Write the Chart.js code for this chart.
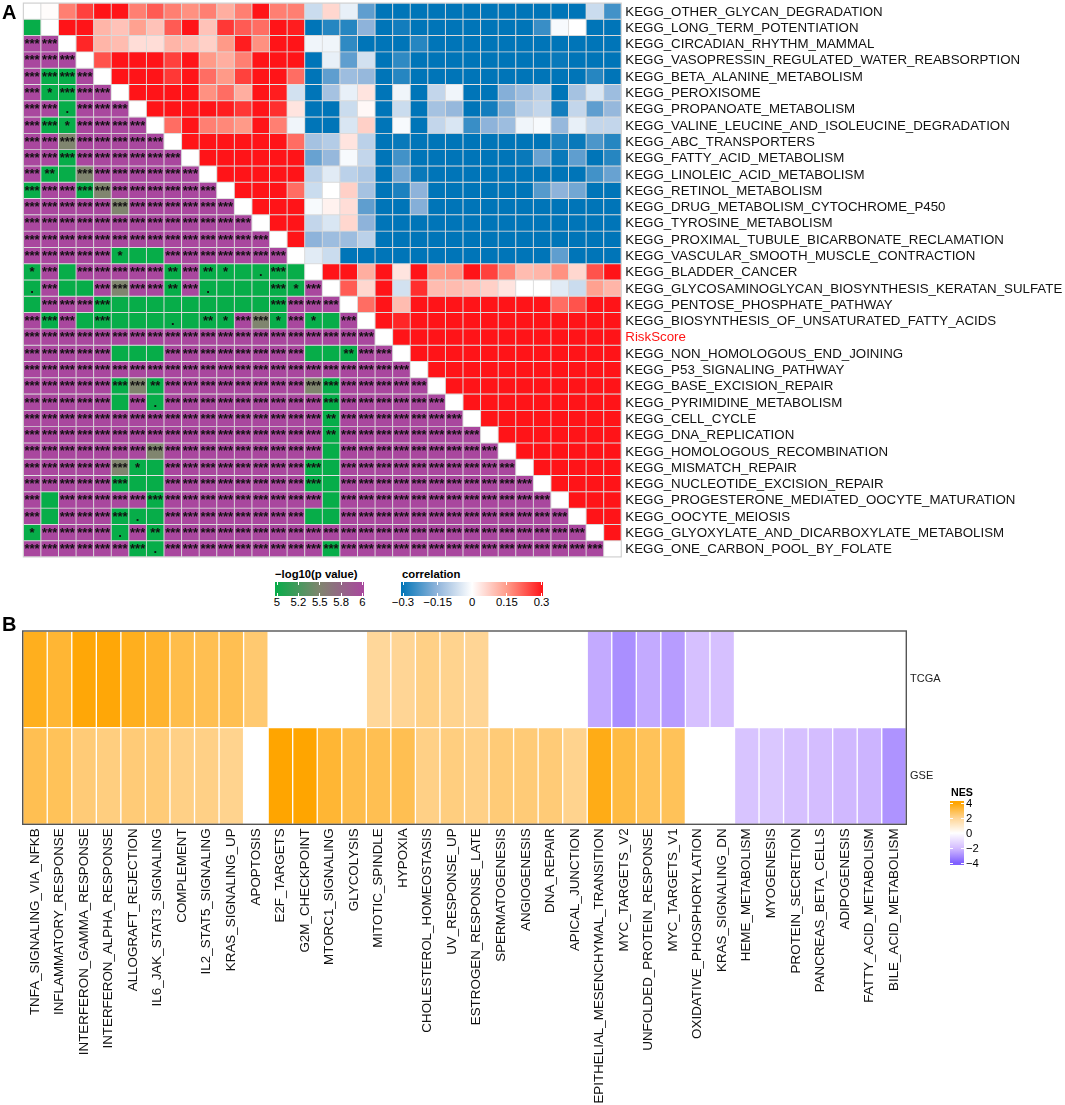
<!DOCTYPE html>
<html><head><meta charset="utf-8">
<style>
html,body{margin:0;padding:0;background:#fff;width:1065px;height:1105px;overflow:hidden;font-family:"Liberation Sans",Arial,sans-serif}
canvas{position:absolute;display:block}
.t{position:absolute;white-space:nowrap;color:#000}
.bar{position:absolute}
</style>
<script src="https://cdn.jsdelivr.net/npm/chart.js@4"></script>
</head><body>
<canvas id="a" width="1065" height="560" style="left:0;top:0"></canvas>
<canvas id="b" width="1065" height="485" style="left:0;top:620px"></canvas>
<div id="lg"></div>
<script>
const pathways=["KEGG_OTHER_GLYCAN_DEGRADATION","KEGG_LONG_TERM_POTENTIATION","KEGG_CIRCADIAN_RHYTHM_MAMMAL","KEGG_VASOPRESSIN_REGULATED_WATER_REABSORPTION","KEGG_BETA_ALANINE_METABOLISM","KEGG_PEROXISOME","KEGG_PROPANOATE_METABOLISM","KEGG_VALINE_LEUCINE_AND_ISOLEUCINE_DEGRADATION","KEGG_ABC_TRANSPORTERS","KEGG_FATTY_ACID_METABOLISM","KEGG_LINOLEIC_ACID_METABOLISM","KEGG_RETINOL_METABOLISM","KEGG_DRUG_METABOLISM_CYTOCHROME_P450","KEGG_TYROSINE_METABOLISM","KEGG_PROXIMAL_TUBULE_BICARBONATE_RECLAMATION","KEGG_VASCULAR_SMOOTH_MUSCLE_CONTRACTION","KEGG_BLADDER_CANCER","KEGG_GLYCOSAMINOGLYCAN_BIOSYNTHESIS_KERATAN_SULFATE","KEGG_PENTOSE_PHOSPHATE_PATHWAY","KEGG_BIOSYNTHESIS_OF_UNSATURATED_FATTY_ACIDS","RiskScore","KEGG_NON_HOMOLOGOUS_END_JOINING","KEGG_P53_SIGNALING_PATHWAY","KEGG_BASE_EXCISION_REPAIR","KEGG_PYRIMIDINE_METABOLISM","KEGG_CELL_CYCLE","KEGG_DNA_REPLICATION","KEGG_HOMOLOGOUS_RECOMBINATION","KEGG_MISMATCH_REPAIR","KEGG_NUCLEOTIDE_EXCISION_REPAIR","KEGG_PROGESTERONE_MEDIATED_OOCYTE_MATURATION","KEGG_OOCYTE_MEIOSIS","KEGG_GLYOXYLATE_AND_DICARBOXYLATE_METABOLISM","KEGG_ONE_CARBON_POOL_BY_FOLATE"];
// upper triangle: correlation of row i with columns i+1..33
const corrRows=[
[.005,.18,.25,.3,.3,.18,.22,.18,.16,.18,.12,.18,.3,.18,.18,-.07,.06,-.03,-.2,-.3,-.3,-.3,-.3,-.3,-.3,-.3,-.3,-.3,-.3,-.3,-.3,-.07,-.23],
[.3,.3,.11,.09,.14,.09,.22,.3,.09,.26,.22,.2,.3,.29,-.3,-.26,-.26,-.15,-.3,-.28,-.3,-.3,-.3,-.3,-.3,-.3,-.3,-.24,-.01,0,-.3,-.3],
[.28,.11,.1,.05,.05,.11,.1,.07,.15,.29,.16,.3,.3,-.02,-.02,-.25,-.3,-.3,-.3,-.26,-.3,-.3,-.3,-.3,-.3,-.3,-.3,-.3,-.3,-.3,-.3],
[.23,.3,.3,.3,.25,.3,.15,.12,.18,.3,.3,.3,-.3,-.03,-.2,-.06,-.3,-.25,-.3,-.3,-.3,-.3,-.3,-.3,-.3,-.3,-.29,-.3,-.3,-.3],
[.3,.3,.3,.26,.3,.2,.15,.25,.3,.3,.2,-.3,-.2,-.13,-.14,-.3,-.26,-.3,-.3,-.3,-.3,-.3,-.3,-.3,-.3,-.3,-.3,-.26,-.3],
[.3,.3,.3,.3,.16,.2,.12,.3,.29,-.06,-.3,-.12,-.03,.04,-.3,-.02,-.3,-.08,-.02,-.3,-.3,-.16,-.13,-.1,-.3,-.12,-.05,-.13],
[.3,.3,.3,.3,.29,.26,.3,.27,.04,-.3,-.3,-.07,.01,-.3,-.07,-.3,-.12,-.14,-.3,-.28,-.17,-.1,-.08,-.28,-.08,-.2,-.14],
[.2,.3,.18,.17,.15,.3,.18,-.02,-.3,-.3,-.05,.07,-.3,-.01,-.3,-.08,-.05,-.24,-.15,-.13,-.02,-.01,-.14,-.03,-.08,-.08],
[.3,.3,.3,.3,.3,.3,.2,-.12,-.1,.04,-.09,-.3,-.29,-.3,-.3,-.3,-.3,-.3,-.3,-.3,-.3,-.27,-.29,-.22,-.26],
[.3,.3,.3,.3,.3,.3,-.19,-.14,-.01,-.08,-.3,-.23,-.3,-.3,-.3,-.3,-.3,-.3,-.29,-.19,-.29,-.2,-.3,-.26],
[.3,.3,.3,.3,.3,-.09,-.04,-.09,-.11,-.3,-.18,-.29,-.3,-.3,-.3,-.3,-.3,-.3,-.3,-.3,-.3,-.23,-.19],
[.3,.3,.3,.2,-.07,0,.07,-.12,-.3,-.27,-.15,-.3,-.3,-.3,-.3,-.3,-.3,-.21,-.15,-.18,-.3,-.3],
[.3,.3,.3,-.01,.02,.05,-.2,-.3,-.3,-.16,-.3,-.3,-.3,-.3,-.3,-.3,-.3,-.3,-.3,-.3,-.3],
[.3,.3,-.08,-.05,.06,-.15,-.3,-.3,-.3,-.3,-.3,-.3,-.3,-.3,-.3,-.3,-.3,-.3,-.3,-.3],
[.3,-.15,-.13,-.13,-.09,-.3,-.3,-.3,-.3,-.3,-.3,-.3,-.3,-.3,-.3,-.3,-.3,-.3,-.3],
[-.04,-.07,-.3,-.3,-.3,-.3,-.3,-.3,-.3,-.3,-.3,-.3,-.3,-.3,-.2,-.3,-.3,-.3],
[.3,.3,.12,.3,.04,.3,.15,.16,.3,.25,.17,.1,.11,.16,.06,.23,.3],
[.22,.06,.3,-.06,.27,.1,.1,.09,.07,.04,0,0,-.04,-.07,.14,.11],
[.2,.3,.1,.3,.3,.3,.3,.3,.3,.3,.3,.2,.23,.3,.3],
[.3,.28,.3,.3,.3,.3,.3,.3,.3,.3,.3,.3,.3,.3],
[.3,.3,.3,.3,.3,.3,.3,.3,.3,.3,.3,.3,.3],
[.3,.3,.3,.3,.3,.3,.3,.3,.3,.3,.3,.3],
[.3,.3,.3,.3,.3,.3,.3,.3,.3,.3,.3],
[.3,.3,.3,.3,.3,.3,.3,.3,.3,.3],
[.3,.3,.3,.3,.3,.3,.3,.3,.3],
[.3,.3,.3,.3,.3,.3,.3,.3],
[.3,.3,.3,.3,.3,.3,.3],
[.3,.3,.3,.3,.3,.3],
[.3,.3,.3,.3,.3],
[.3,.3,.3,.3],
[.3,.3,.3],
[.3,.3],
[.3]
];
// lower triangle, one letter per column 0..i-1:
// P purple *** (6), M mid *** (5.5), G green ***, g green **, s green *, d green ., n green blank
const sigRows=["","n","PP","PPP","PGGP","PsGPP","PPdPPP","PGsPPPP","PPMPPPPP","PPGPPPPPP","PgnMPPPPPP","GPPGMPPPPPP","PPPPPMPPPPPP","PPPPPPPPPPPPP","PPPPPPPPPPPPPP","PPPPPsnnPPPPPPP","sPnPPPPPgPgsndGn","dPnnPMPPgPdnnnGsP","nPPPGnnnnnnnnnGPPP","PGPnGnnndngsPMsPsnP","PPPPPPPPPPPPPPPPPPPP","PPPPPnnnPPPPPPPPnngPP","PPPPPPPPPPPPPPPPPPPPPP","PPPPPGMgPPPPPPPPMGPPPPP","PPPPPnPdPPPPPPPPPGPPPPPP","PPPPPPPPPPPPPPPPPgPPPPPPP","PPPPPPPPPPPPPPPPPgPPPPPPPP","PPPPPPPMPPPPPPPPPnPPPPPPPPP","PPPPPMsnPPPPPPPPGnPPPPPPPPPP","PPPPPGnnPPPPPPPPGnPPPPPPPPPPP","PnPPPPPGPPPPPPPPPnPPPPPPPPPPPP","PnPPPGdnPPPPPPPPnnPPPPPPPPPPPPP","sPPPPdPgPPPPPPPPPPPPPPPPPPPPPPPP","PPPPPPGdPPPPPPPPPGPPPPPPPPPPPPPPP"];
const sigP={P:6,M:5.5,G:5,g:5,s:5,d:5,n:5};
const sigStars={P:"***",M:"***",G:"***",g:"**",s:"*",d:".",n:""};
const hallmarks=["TNFA_SIGNALING_VIA_NFKB","INFLAMMATORY_RESPONSE","INTERFERON_GAMMA_RESPONSE","INTERFERON_ALPHA_RESPONSE","ALLOGRAFT_REJECTION","IL6_JAK_STAT3_SIGNALING","COMPLEMENT","IL2_STAT5_SIGNALING","KRAS_SIGNALING_UP","APOPTOSIS","E2F_TARGETS","G2M_CHECKPOINT","MTORC1_SIGNALING","GLYCOLYSIS","MITOTIC_SPINDLE","HYPOXIA","CHOLESTEROL_HOMEOSTASIS","UV_RESPONSE_UP","ESTROGEN_RESPONSE_LATE","SPERMATOGENESIS","ANGIOGENESIS","DNA_REPAIR","APICAL_JUNCTION","EPITHELIAL_MESENCHYMAL_TRANSITION","MYC_TARGETS_V2","UNFOLDED_PROTEIN_RESPONSE","MYC_TARGETS_V1","OXIDATIVE_PHOSPHORYLATION","KRAS_SIGNALING_DN","HEME_METABOLISM","MYOGENESIS","PROTEIN_SECRETION","PANCREAS_BETA_CELLS","ADIPOGENESIS","FATTY_ACID_METABOLISM","BILE_ACID_METABOLISM"];
const cohorts=["TCGA","GSE"];
const nesTCGA=[3.6,3.3,3.9,3.9,3.6,3.4,3,2.9,2.9,2.5,null,null,null,null,1.9,2,2.2,2.1,2,null,null,null,null,-2.4,-3,-2.4,-2.7,-1.9,-1.9,null,null,null,null,null,null,null];
const nesGSE=[2.9,2.8,2.4,2.3,2.4,2.4,2.2,2.2,2.1,null,4,4,3.3,3,2.9,2.9,2.2,2.3,2.2,2.4,2.4,2.4,2.1,3.7,3.1,2.8,2.8,null,null,-1.8,-1.7,-1.9,-2,-2.1,-2.2,-2.9];
const corrStops=[[-.3,[0,117,184]],[-.15,[142,179,218]],[0,[255,255,255]],[.15,[255,154,136]],[.3,[255,20,24]]];
const pStops=[[5,[7,173,73]],[5.5,[128,133,111]],[6,[169,71,158]]];
const nesStops=[[-4,[128,96,255]],[-2,[212,189,255]],[0,[255,255,255]],[2,[255,213,149]],[4,[255,165,0]]];
function ramp(st,v){
  if(v<=st[0][0])return rgb(st[0][1]);
  for(let i=1;i<st.length;i++){if(v<=st[i][0]){const a=st[i-1],b=st[i],t=(v-a[0])/(b[0]-a[0]);
    return rgb(a[1].map((c,k)=>c+(b[1][k]-c)*t));}}
  return rgb(st[st.length-1][1]);
}
function rgb(c){return "rgb("+c.map(Math.round).join(",")+")";}
const n=pathways.length;
const dsA=pathways.map((name,r)=>{
  const data=[],bg=[];
  for(let c=0;c<n;c++){
    data.push([r,r+1]);
    if(c===r)bg.push("#fff");
    else if(c>r)bg.push(ramp(corrStops,corrRows[r][c-r-1]));
    else bg.push(ramp(pStops,sigP[sigRows[r][c]]));
  }
  return {label:name,data,backgroundColor:bg,borderColor:"rgba(214,214,214,.85)",borderWidth:.8,borderSkipped:false,barPercentage:1,categoryPercentage:1,grouped:false};
});
const starsPlugin={id:"stars",afterDatasetsDraw(ch){
  const c=ch.ctx,x=ch.scales.x,y=ch.scales.y;
  c.save();c.fillStyle="#111";c.font='bold 13px "Liberation Sans"';c.textAlign="center";c.textBaseline="alphabetic";
  sigRows.forEach((row,r)=>{for(let k=0;k<row.length;k++){const s=sigStars[row[k]];if(s)c.fillText(s,x.getPixelForValue(k),y.getPixelForValue(r)+12.5);}});
  const a=ch.chartArea;c.strokeStyle="#cfcfcf";c.lineWidth=1;c.strokeRect(a.left,a.top,a.right-a.left,a.bottom-a.top);
  c.restore();
}};
new Chart(document.getElementById("a"),{type:"bar",data:{labels:pathways,datasets:dsA},plugins:[starsPlugin],options:{
  responsive:false,animation:false,events:[],
  layout:{padding:{left:23.3,top:3,right:0,bottom:3}},
  plugins:{legend:{display:false},tooltip:{enabled:false},title:{display:false}},
  scales:{
    x:{display:false,stacked:false,offset:true,grid:{display:false}},
    y:{display:false,min:0,max:n,reverse:true,grid:{display:false}},
    y2:{type:"category",labels:pathways,position:"right",offset:true,grid:{display:false,drawTicks:false},border:{display:false},
      afterFit(s){s.width=1065-621.3;s.paddingTop=0;s.paddingBottom=0;},
      ticks:{autoSkip:false,padding:4,labelOffset:.8,font:{family:'"Liberation Sans"',size:13.3},color:(ctx)=>pathways[ctx.index]==="RiskScore"?"#ff1414":"#111",crossAlign:"near"}}
  }}});
const frame={id:"frame",afterDatasetsDraw(ch){const a=ch.chartArea,c=ch.ctx;c.save();c.strokeStyle="#555";c.lineWidth=1.4;c.strokeRect(a.left,a.top,a.right-a.left,a.bottom-a.top);c.restore();}};
const nesSets=[nesTCGA,nesGSE];
const dsB=nesSets.map((vals,r)=>({label:cohorts[r],data:vals.map(v=>v===null?null:[r,r+1]),backgroundColor:vals.map(v=>v===null?"#fff":ramp(nesStops,v)),borderColor:"#fff",borderWidth:1,borderSkipped:false,barPercentage:1,categoryPercentage:1,grouped:false}));
new Chart(document.getElementById("b"),{type:"bar",data:{labels:hallmarks,datasets:dsB},plugins:[frame],options:{
  responsive:false,animation:false,events:[],
  layout:{padding:{left:22.7,top:11,right:0,bottom:0}},
  plugins:{legend:{display:false},tooltip:{enabled:false}},
  scales:{
    x:{offset:true,grid:{display:false,drawTicks:false},border:{display:false},afterFit(s){s.height=485-204.3;},
       ticks:{autoSkip:false,minRotation:90,maxRotation:90,padding:4,font:{family:'"Liberation Sans"',size:13.4},color:"#111"}},
    y:{display:false,min:0,max:2,reverse:true,grid:{display:false}},
    y2:{type:"category",labels:cohorts,position:"right",offset:true,grid:{display:false,drawTicks:false},border:{display:false},afterFit(s){s.width=1065-906.3;s.paddingTop=0;s.paddingBottom=0;},
       ticks:{padding:3.7,font:{family:'"Liberation Sans"',size:11},color:"#222",crossAlign:"near"}}
  }}});
// legends and panel letters
const L=document.getElementById("lg");
function T(s,x,y,sz,opt){opt=opt||{};const d=document.createElement("div");d.className="t";d.textContent=s;d.style.cssText+=`left:${x}px;top:${y}px;font-size:${sz}px;line-height:1;`+(opt.b?"font-weight:bold;":"")+(opt.c?"transform:translateX(-50%);":"");L.appendChild(d);}
function cssGrad(st,lo,hi,dir){return `linear-gradient(${dir},`+st.map(s=>ramp(st,s[0])+" "+((s[0]-lo)/(hi-lo)*100)+"%").join(",")+")";}
function B(x,y,w,h,bg){const d=document.createElement("div");d.className="bar";d.style.cssText=`left:${x}px;top:${y}px;width:${w}px;height:${h}px;background:${bg}`;L.appendChild(d);}
T("A",2,2,20,{b:1});
T("B",2,614,20,{b:1});
T("\u2212log10(p value)",275,569,11.3,{b:1});
const pLegTicks=[5,5.25,5.5,5.75,6],pLegLabels=["5","5.2","5.5","5.8","6"];
B(275,582,89,14,cssGrad(pStops,5,6,"to right"));
pLegTicks.forEach((v,i)=>{const x=276.5+(v-5)*85.5;B(x,582,1,3,"#fff");B(x,593,1,3,"#fff");T(pLegLabels[i],x+.5,597,11.3,{c:1});});
T("correlation",402,569,11.3,{b:1});
const cLegTicks=[-.3,-.15,0,.15,.3],cLegLabels=["\u22120.3","\u22120.15","0","0.15","0.3"];
B(401,582,142,14,cssGrad(corrStops,-.3,.3,"to right"));
cLegTicks.forEach((v,i)=>{const x=402.5+(v+.3)/.6*138.5;B(x,582,1,3,"#fff");B(x,593,1,3,"#fff");T(cLegLabels[i],x+.5,597,11.3,{c:1});});
T("NES",962,786.5,10.7,{b:1,c:1});
B(949.5,801,14.5,64,cssGrad(nesStops,-4.27,4.27,"to top"));
[4,2,0,-2,-4].forEach((v,i)=>{const y=833-v*7.5;B(949.5,y,3,1,"#fff");B(961,y,3,1,"#fff");T(String(v).replace("-","\u2212"),966,y-5.5,11.3);});
</script>
</body></html>
